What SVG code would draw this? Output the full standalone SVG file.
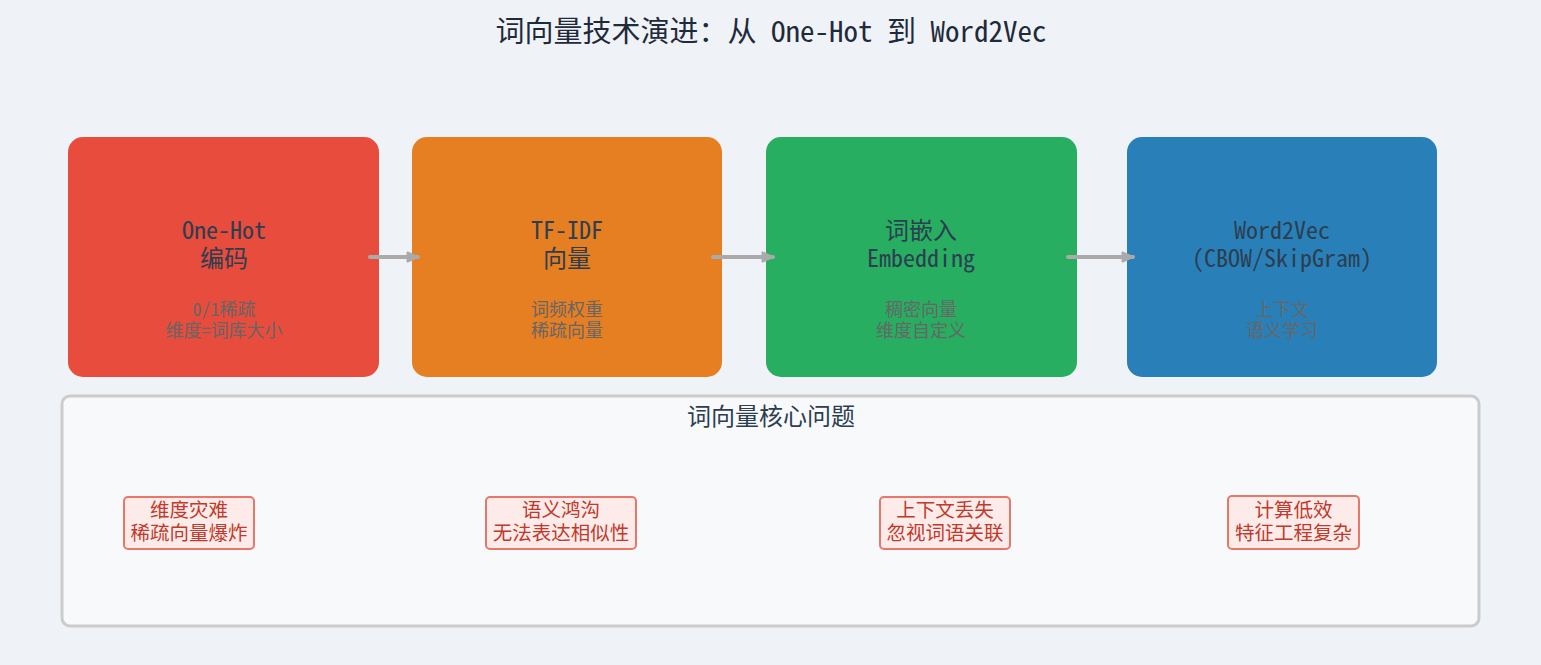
<svg xmlns="http://www.w3.org/2000/svg" width="1541" height="665" viewBox="0 0 1541 665">
<style>
.mono{font-family:"Noto Sans Mono CJK SC","DejaVu Sans Mono","Noto Sans CJK SC",monospace;}
.sans{font-family:"Noto Sans CJK SC","Noto Sans",sans-serif;}
.ttl{font-size:29px;fill:#1f2a3a;text-anchor:middle;}
.nt{font-size:24px;fill:#2c3e50;text-anchor:middle;font-weight:300;}
.ns{font-size:18px;fill:#666666;text-anchor:middle;}
.box{rx:15;ry:15;}
.conn{stroke:#aaaaaa;stroke-width:4;stroke-linecap:round;fill:none;}
.pb{fill:#fdebea;stroke:#e8776b;stroke-width:2;}
.pt{font-size:19.5px;fill:#c0392b;text-anchor:middle;}
</style>
<defs>
<marker id="ah" markerUnits="userSpaceOnUse" markerWidth="16" markerHeight="16" refX="12" refY="6" orient="auto">
<path d="M1.5,1.5 L12,6 L1.5,10.5 Z" fill="#aaaaaa" stroke="#aaaaaa" stroke-width="2" stroke-linejoin="round"/>
</marker>
</defs>
<rect x="0" y="0" width="1541" height="665" fill="#eff3f8"/>
<text class="mono ttl" x="771" y="42">词向量技术演进：从 One-Hot 到 Word2Vec</text>

<g id="node-onehot">
<rect class="box" x="68" y="137" width="311" height="240" fill="#e74c3c"/>
<text class="mono nt" x="224" y="239"><tspan x="224">One-Hot</tspan><tspan x="224" dy="28">编码</tspan></text>
<text class="mono ns" x="224" y="316"><tspan x="224">0/1稀疏</tspan><tspan x="224" dy="21">维度=词库大小</tspan></text>
</g>
<g id="node-tfidf">
<rect class="box" x="412" y="137" width="310" height="240" fill="#e67e22"/>
<text class="mono nt" x="567" y="239"><tspan x="567">TF-IDF</tspan><tspan x="567" dy="28">向量</tspan></text>
<text class="mono ns" x="567" y="316"><tspan x="567">词频权重</tspan><tspan x="567" dy="21">稀疏向量</tspan></text>
</g>
<g id="node-embedding">
<rect class="box" x="766" y="137" width="311" height="240" fill="#27ae60"/>
<text class="mono nt" x="921" y="239"><tspan x="921">词嵌入</tspan><tspan x="921" dy="28">Embedding</tspan></text>
<text class="mono ns" x="921" y="316"><tspan x="921">稠密向量</tspan><tspan x="921" dy="21">维度自定义</tspan></text>
</g>
<g id="node-word2vec">
<rect class="box" x="1127" y="137" width="310" height="240" fill="#2980b9"/>
<text class="mono nt" x="1282" y="239"><tspan x="1282">Word2Vec</tspan><tspan x="1282" dy="28">(CBOW/SkipGram)</tspan></text>
<text class="mono ns" x="1282" y="316"><tspan x="1282">上下文</tspan><tspan x="1282" dy="21">语义学习</tspan></text>
</g>

<g id="connectors">
<line class="conn" x1="370" y1="257" x2="418" y2="257" marker-end="url(#ah)"/>
<line class="conn" x1="713" y1="257" x2="773" y2="257" marker-end="url(#ah)"/>
<line class="conn" x1="1068" y1="257" x2="1133" y2="257" marker-end="url(#ah)"/>
</g>

<g id="panel">
<rect x="62" y="396" width="1417" height="230" rx="8" ry="8" fill="#f8f9fa" stroke="#cccccc" stroke-width="3"/>
<text class="sans" x="771" y="425" font-size="24" fill="#2c3e50" text-anchor="middle">词向量核心问题</text>
</g>
<g id="problem-1">
<rect class="pb" x="124" y="497" width="130" height="52" rx="4"/>
<text class="sans pt" x="189" y="517"><tspan x="189">维度灾难</tspan><tspan x="189" dy="23">稀疏向量爆炸</tspan></text>
</g>
<g id="problem-2">
<rect class="pb" x="486" y="497" width="150" height="52" rx="4"/>
<text class="sans pt" x="561" y="517"><tspan x="561">语义鸿沟</tspan><tspan x="561" dy="23">无法表达相似性</tspan></text>
</g>
<g id="problem-3">
<rect class="pb" x="880" y="497" width="130" height="52" rx="4"/>
<text class="sans pt" x="945" y="517"><tspan x="945">上下文丢失</tspan><tspan x="945" dy="23">忽视词语关联</tspan></text>
</g>
<g id="problem-4">
<rect class="pb" x="1228" y="496" width="131" height="53" rx="4"/>
<text class="sans pt" x="1293.5" y="517"><tspan x="1293.5">计算低效</tspan><tspan x="1293.5" dy="23">特征工程复杂</tspan></text>
</g>
</svg>
